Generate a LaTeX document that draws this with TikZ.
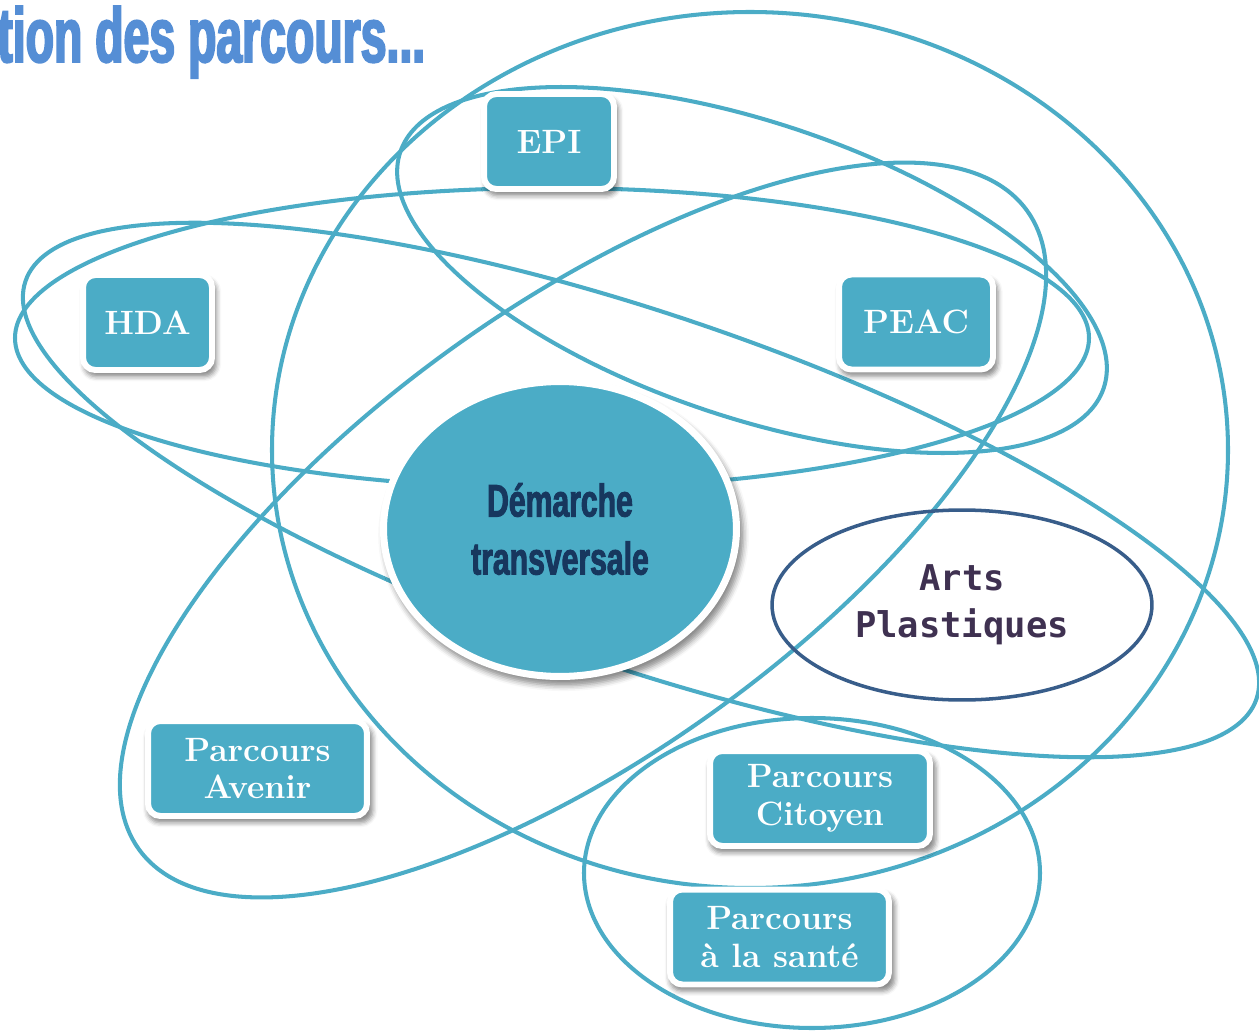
\documentclass[tikz,border=0pt]{standalone}
\usepackage{xcolor}
\usepackage{fontspec}
\usepackage{tikz}
\usetikzlibrary{shapes,shadows.blur}
\newfontfamily\titlefont[FakeStretch=0.6,FakeBold=2.5]{Liberation Sans}
\newfontfamily\demfont[FakeStretch=0.66,FakeBold=2]{Liberation Sans}
\newfontfamily\artsfont{DejaVu Sans Mono}
\definecolor{teal5}{HTML}{4BACC6}
\definecolor{navytext}{HTML}{17375E}
\definecolor{titleblue}{HTML}{558ED5}
\definecolor{artsline}{HTML}{385D8A}
\definecolor{artstext}{HTML}{3F3151}
\tikzstyle{ring} = [draw=teal5, line width=2.3pt]
\tikzstyle{block} = [rectangle, draw=white, line width=3.4pt, fill=teal5,
    rounded corners=7pt, text=white, align=center, inner sep=0pt,
    minimum height=1.9cm, font=\bfseries\fontsize{19.2}{21.5}\selectfont,
    blur shadow={shadow xshift=1.5pt, shadow yshift=-3pt, shadow scale=1.03,
    shadow blur radius=2.5pt, shadow opacity=45}]
\tikzstyle{hub} = [ellipse, draw=white, line width=4pt, fill=teal5,
    minimum width=7.06cm, minimum height=5.9cm, inner sep=0pt, align=center,
    text=navytext, font=\demfont\bfseries\fontsize{26}{33}\selectfont,
    blur shadow={shadow xshift=2pt, shadow yshift=-3.5pt, shadow scale=1.02,
    shadow blur radius=3pt, shadow opacity=45}]
\tikzstyle{artsring} = [ellipse, draw=artsline, line width=2pt,
    minimum width=7.6cm, minimum height=3.8cm, inner sep=0pt, align=center,
    text=artstext, font=\artsfont\bfseries\fontsize{20.2}{26.6}\selectfont]

\begin{document}
\begin{tikzpicture}[x=0.02cm, y=-0.02cm]
    \useasboundingbox (0,0) rectangle (1259,1031);
    % Title
    \node [anchor=base west, inner sep=0pt, text=titleblue,
        font=\titlefont\bfseries\fontsize{44}{50}\selectfont] (title) at (-3,62) {tion des parcours...};

    % Draw rings
    \draw [ring] (750,450) ellipse [x radius=478, y radius=438];
    \draw [ring, rotate around={-18.55:(752,270)}] (752,270) ellipse [x radius=371, y radius=147.5];
    \draw [ring] (552,338) ellipse [x radius=537, y radius=150];
    \draw [ring, rotate around={-18.75:(641,490)}] (641,490) ellipse [x radius=650, y radius=176];
    \draw [ring, rotate around={35.7:(583,530)}] (583,530) ellipse [x radius=547, y radius=224];
    \draw [ring] (812,873) ellipse [x radius=228, y radius=155];

    % Place nodes
    \node [artsring] (arts) at (962,605) {Arts\\Plastiques};
    \node [block, minimum width=2.6cm] (epi) at (549,141.5) {EPI};
    \node [block, minimum width=2.58cm] (hda) at (147.5,322.5) {HDA};
    \node [block, minimum width=3.08cm] (peac) at (916,322) {PEAC};
    \node [block, minimum width=4.38cm] (avenir) at (257.5,768.5) {Parcours\\Avenir};
    \node [block, minimum width=4.4cm] (citoyen) at (820,798.5) {Parcours\\Citoyen};
    \node [block, minimum width=4.38cm] (sante) at (779.5,937) {Parcours\\à la santé};
    \node [hub] (demarche) at (560,529) {Démarche\\transversale};
\end{tikzpicture}
\end{document}
